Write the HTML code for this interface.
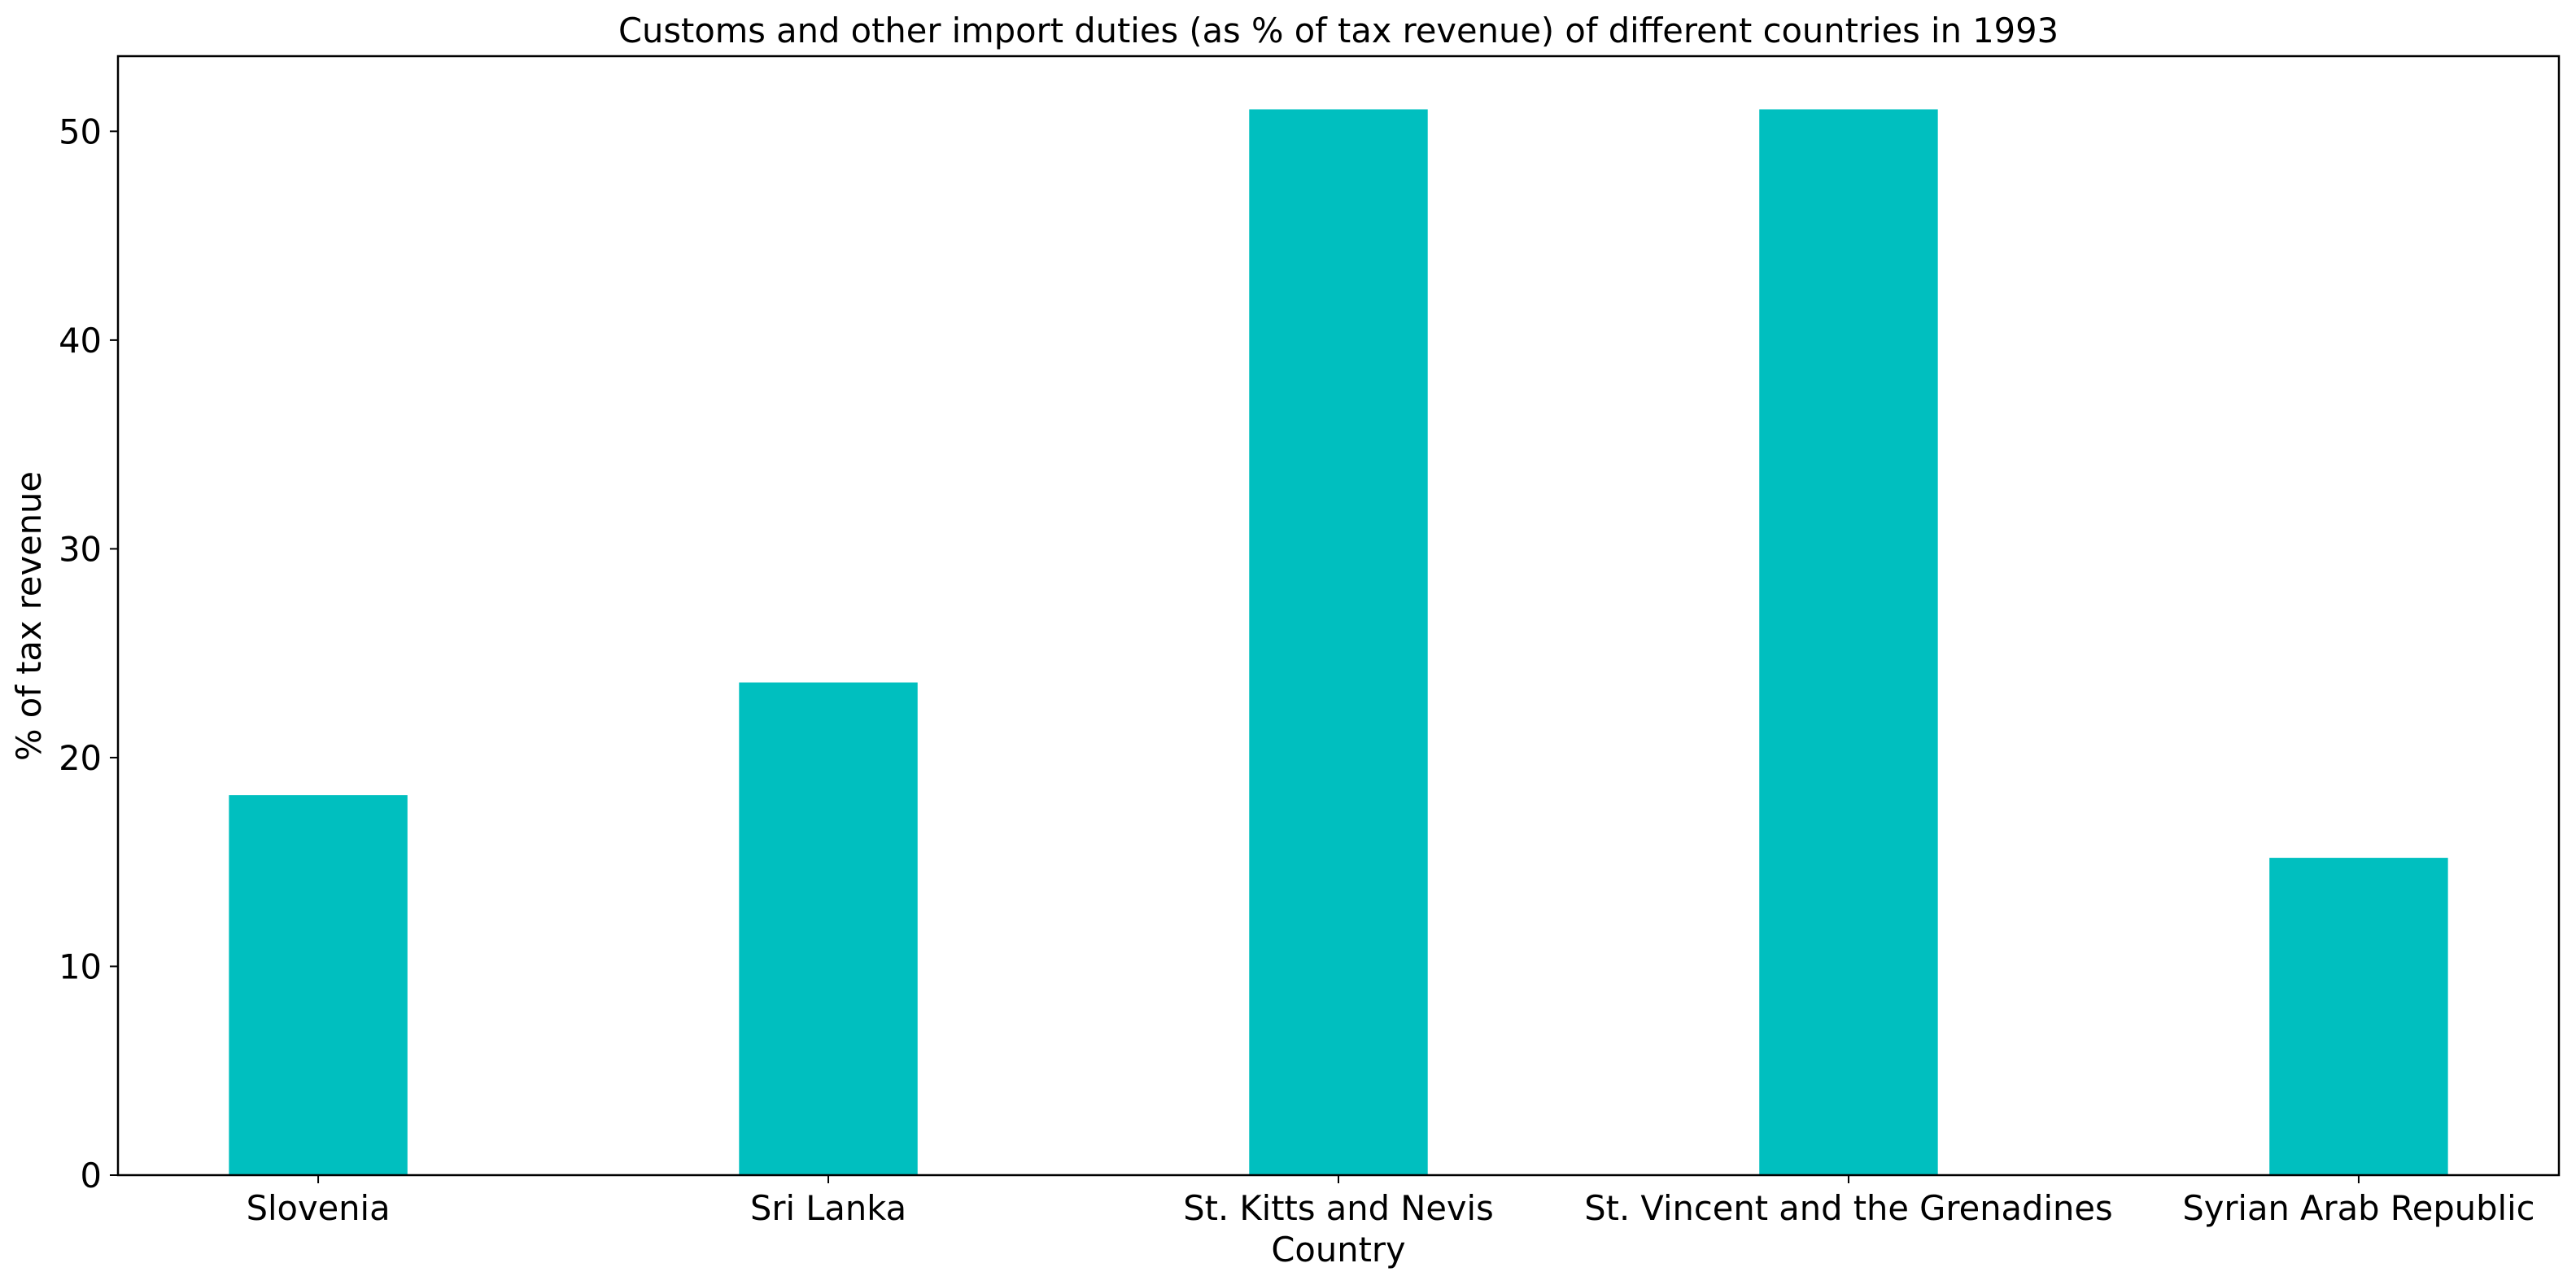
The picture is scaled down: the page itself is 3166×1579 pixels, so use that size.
<!DOCTYPE html>
<html><head><meta charset="utf-8"><style>
body{margin:0;background:#fff}
svg{display:block}
text{font-family:"DejaVu Sans","Liberation Sans",sans-serif;fill:#000}
</style></head><body>
<svg id="chart" width="3166" height="1579" viewBox="0 0 3166 1579">
<text x="1645" y="52" font-size="41.6" text-anchor="middle">Customs and other import duties (as % of tax revenue) of different countries in 1993</text>
<g id="bars"></g>
<g id="yticks"></g>
<g id="xticks"></g>
<rect x="145" y="69" width="3000" height="1375" fill="none" stroke="#000" stroke-width="2.5"/>
<text x="1645" y="1550" font-size="41.6" text-anchor="middle">Country</text>
<text transform="translate(50,757) rotate(-90)" font-size="41.6" text-anchor="middle">% of tax revenue</text>
</svg>
<script>
const categories = ["Slovenia","Sri Lanka","St. Kitts and Nevis","St. Vincent and the Grenadines","Syrian Arab Republic"];
const values = [18.2, 23.6, 51.05, 51.05, 15.2];
const yTicks = [0,10,20,30,40,50];
const NS="http://www.w3.org/2000/svg";
const L=145,R=3145,T=69,B=1444;
const xMin=-0.3925,xMax=4.3925,yMax=53.6;
const xs=v=>L+(v-xMin)/(xMax-xMin)*(R-L);
const ys=v=>B-v/yMax*(B-T);
const bw=0.35;
function mk(tag,attrs){const e=document.createElementNS(NS,tag);for(const k in attrs)e.setAttribute(k,attrs[k]);return e;}
const gb=document.getElementById('bars'),gx=document.getElementById('xticks'),gy=document.getElementById('yticks');
categories.forEach((c,i)=>{
  const r=mk('rect',{x:xs(i-bw/2),y:ys(values[i]),width:xs(i+bw/2)-xs(i-bw/2),height:ys(0)-ys(values[i]),fill:'#00bfbf'});
  
  
  gb.appendChild(r);
  const t=mk('line',{x1:xs(i),x2:xs(i),y1:B,y2:B+10,stroke:'#000','stroke-width':2});
  
  
  gx.appendChild(t);
  const l=mk('text',{x:xs(i),y:B+55,'font-size':41.6,'text-anchor':'middle'});
  l.textContent=c;
  
  
  gx.appendChild(l);
});
yTicks.forEach(v=>{
  const t=mk('line',{x1:L-10,x2:L,y1:ys(v),y2:ys(v),stroke:'#000','stroke-width':2});
  
  
  gy.appendChild(t);
  const l=mk('text',{x:L-20,y:ys(v)+15,'font-size':41.6,'text-anchor':'end'});
  l.textContent=v;
  
  
  gy.appendChild(l);
});
</script>
</body></html>
